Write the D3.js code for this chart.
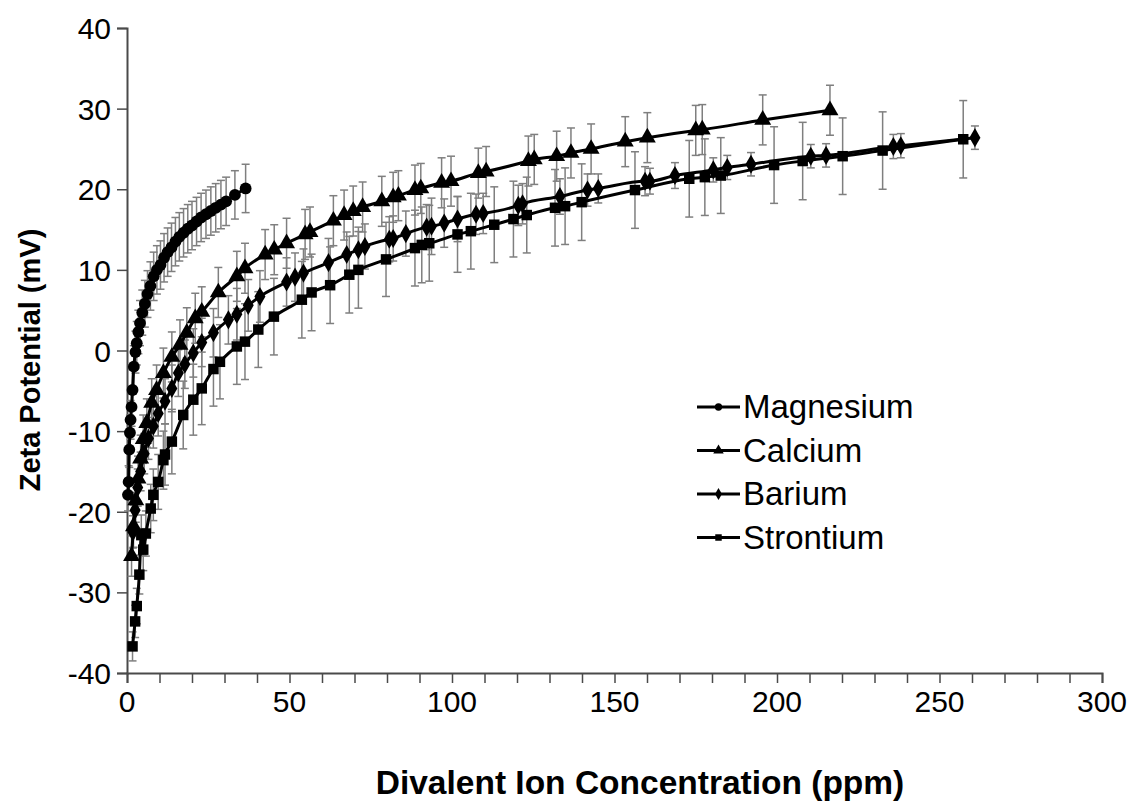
<!DOCTYPE html>
<html><head><meta charset="utf-8">
<script src="https://cdn.jsdelivr.net/npm/d3@7"></script>
<style>body{margin:0;background:#fff}svg{display:block}text{font-family:"Liberation Sans",Arial,sans-serif}</style>
</head><body><svg id="c" width="1140" height="805"></svg>
<script>
// ---- data ----
const seriesNames = ["Magnesium", "Calcium", "Barium", "Strontium"];
const xTicks = [0, 50, 100, 150, 200, 250, 300];
const yTicks = [-40, -30, -20, -10, 0, 10, 20, 30, 40];

const mgX = [0.3,0.5,0.7,0.9,1.1,1.4,1.7,2.1,2.6,3.0,3.5,4.0,4.7,5.5,6.3,7.2,8.2,9.2,10.3,11.4,12.5,13.7,14.9,16.1,17.4,18.7,20.0,21.4,22.8,24.3,25.8,27.3,28.9,30.5,33.2,36.5];
const mgY = [-17.9,-16.3,-12.3,-10.2,-8.6,-7.0,-4.9,-2.0,-0.2,0.9,2.3,3.4,4.7,5.8,7.0,8.0,9.2,10.0,10.6,11.5,12.2,12.8,13.5,14.1,14.6,15.1,15.5,16.0,16.5,16.9,17.3,17.7,18.1,18.5,19.3,20.1];
const mgErr = [2.0,2.0,2.2,2.2,2.4,2.4,2.5,2.6,2.6,2.7,2.7,2.8,2.8,2.9,2.9,3.0,3.0,3.0,3.0,3.0,3.0,3.0,3.0,3.0,3.0,3.0,3.0,3.0,3.0,3.0,3.0,3.0,3.0,3.0,3.0,3.0];

const caX = [1.4,2.0,2.7,3.4,4.2,5.0,6.1,7.6,9.1,11.2,13.8,16.3,18.4,21.0,23.0,28.1,33.8,36.3,42.5,45.3,49.1,54.8,56.3,63.5,66.8,69.6,72.5,78.4,81.9,83.5,88.6,90.4,96.8,99.7,108.1,110.5,123.5,125.3,132.2,136.6,142.8,153.3,160.1,175.0,177.0,195.6,216.3];
const caY = [-25.5,-21.8,-18.6,-15.9,-13.4,-11.0,-9.0,-6.5,-4.9,-2.8,-0.8,0.7,2.2,4.0,4.8,7.2,9.2,10.2,11.9,12.5,13.3,14.4,14.7,16.1,16.8,17.3,17.8,18.5,19.0,19.2,19.9,20.1,20.8,21.0,22.0,22.2,23.5,23.7,24.1,24.5,25.0,25.9,26.4,27.3,27.4,28.6,29.8];
const caErr = [2.5,2.6,2.7,2.8,2.9,3.0,3.0,3.0,3.1,3.1,3.1,3.1,3.1,3.1,3.1,3.1,3.1,3.1,3.1,3.1,3.1,3.1,3.1,3.1,3.1,3.1,3.1,3.1,3.1,3.1,3.1,3.1,3.1,3.1,3.1,3.1,3.1,3.1,3.1,3.1,3.1,3.1,3.1,3.1,3.1,3.1,3.1];

const baX = [1.8,2.5,3.3,4.2,5.3,6.6,8.1,9.6,11.7,13.8,15.8,17.8,20.4,23.0,26.6,31.2,33.8,37.3,40.9,49.1,51.7,54.3,62.0,67.6,71.2,73.2,80.7,81.9,85.8,92.2,93.7,97.6,101.7,107.4,109.6,120.4,121.7,133.2,141.7,145.0,159.4,160.9,168.6,180.4,184.7,192.0,210.4,215.1,235.8,238.1,260.9];
const baY = [-22.5,-19.8,-17.0,-15.0,-12.8,-10.9,-9.4,-7.8,-6.3,-4.7,-2.8,-1.7,-0.3,1.0,2.2,3.8,4.5,5.6,6.7,8.5,9.1,9.6,10.9,11.9,12.5,12.9,13.8,13.9,14.5,15.3,15.4,15.8,16.3,16.9,17.0,18.0,18.2,19.1,19.9,20.1,21.0,21.0,21.7,22.4,22.7,23.1,24.1,24.2,25.3,25.4,26.4];
const baErr = [2.0,2.2,2.3,2.4,2.5,2.6,2.7,2.8,2.8,2.9,2.9,3.0,3.0,3.0,3.0,3.0,3.2,3.2,3.2,3.0,3.0,3.0,3.0,2.8,2.8,2.8,2.8,2.8,2.8,2.8,3.5,3.0,2.8,2.5,2.5,2.5,2.5,2.2,2.0,1.8,1.8,1.6,1.6,1.5,1.5,1.45,1.45,1.45,1.5,1.5,1.45];

const srX = [1.7,2.5,3.0,3.8,4.4,5.0,5.8,7.3,8.1,9.6,11.2,11.7,13.8,17.3,20.4,23.0,26.6,28.6,33.8,36.3,40.4,45.2,53.8,56.8,62.5,68.4,71.2,79.7,88.6,90.7,93.0,101.7,105.8,113.0,118.9,123.0,131.7,134.8,139.9,156.3,173.0,177.8,182.7,199.1,207.9,220.2,232.5,257.3];
const srY = [-36.7,-33.6,-31.7,-27.8,-22.9,-24.7,-22.7,-19.6,-17.9,-16.3,-13.6,-12.9,-11.3,-8.0,-6.1,-4.7,-2.3,-1.4,0.5,1.1,2.6,4.2,6.3,7.2,8.1,9.4,10.0,11.3,12.7,13.1,13.3,14.4,14.8,15.6,16.3,16.8,17.7,17.9,18.4,19.9,21.3,21.5,21.7,23.0,23.5,24.1,24.8,26.2];
const srErr = [1.8,2.0,2.2,2.4,2.5,2.6,2.8,3.0,3.2,3.4,3.6,3.8,4.0,4.2,4.4,4.5,4.6,4.6,4.7,4.7,4.7,4.75,4.75,4.75,4.75,4.75,4.75,4.6,4.7,4.7,4.7,4.7,4.7,4.7,4.7,4.7,4.75,4.75,4.75,4.75,4.75,4.75,4.7,4.75,4.8,4.75,4.8,4.8];

const seriesX = [mgX, caX, baX, srX];
const seriesY = [mgY, caY, baY, srY];
const seriesErr = [mgErr, caErr, baErr, srErr];
const symbols = [d3.symbolCircle, d3.symbolTriangle, d3.symbolDiamond, d3.symbolSquare];
const symSizes = [110, 125, 105, 110];
const legSizes = [42, 48, 42, 42];

// ---- layout ----
const svg = d3.select("#c");
const L = 127, R = 1102, T = 28, B = 673;
const x = d3.scaleLinear().domain([0, 300]).range([L, R]);
const y = d3.scaleLinear().domain([-40, 40]).range([B, T]);

const axisColor = "#4a4a4a";
// x axis
const gx = svg.append("g").attr("transform", `translate(0,${B})`)
  .call(d3.axisBottom(x).tickValues(d3.range(0, 301, 10)).tickSize(10).tickFormat(""));
gx.select(".domain").attr("stroke", axisColor).attr("stroke-width", 2);
gx.selectAll(".tick line").attr("stroke", axisColor).attr("stroke-width", 1.5);
svg.append("g").selectAll("text").data(xTicks).join("text")
  .attr("x", d => x(d)).attr("y", B + 39).attr("text-anchor", "middle")
  .attr("font-size", 30).attr("fill", "#000").text(d => d);
// y axis
const gy = svg.append("g").attr("transform", `translate(${L},0)`)
  .call(d3.axisLeft(y).tickValues(yTicks).tickSize(10).tickFormat(""));
gy.select(".domain").attr("stroke", axisColor).attr("stroke-width", 2);
gy.selectAll(".tick line").attr("stroke", axisColor).attr("stroke-width", 1.5);
svg.append("g").selectAll("text").data(yTicks).join("text")
  .attr("x", L - 16).attr("y", d => y(d) + 11).attr("text-anchor", "end")
  .attr("font-size", 30).attr("fill", "#000").text(d => d);

// titles
svg.append("text").attr("x", 640).attr("y", 794).attr("text-anchor", "middle")
  .attr("font-size", 33.5).attr("font-weight", "bold").text("Divalent Ion Concentration (ppm)");
svg.append("text").attr("transform", "translate(40,360) rotate(-90)").attr("text-anchor", "middle")
  .attr("font-size", 29).attr("font-weight", "bold").text("Zeta Potential (mV)");

// error bars
const eg = svg.append("g");
seriesX.forEach((xs, s) => {
  const pts = xs.map((v, i) => ({x: v, y: seriesY[s][i], e: seriesErr[s][i]}));
  const g = eg.append("g").attr("stroke", "#7f7f7f").attr("stroke-width", 1.5).attr("fill", "none");
  g.selectAll("line.v").data(pts).join("line").attr("class", "v")
    .attr("x1", d => x(d.x)).attr("x2", d => x(d.x)).attr("y1", d => y(d.y - d.e)).attr("y2", d => y(d.y + d.e));
  g.selectAll("line.t").data(pts).join("line").attr("class", "t")
    .attr("x1", d => x(d.x) - 4).attr("x2", d => x(d.x) + 4).attr("y1", d => y(d.y + d.e)).attr("y2", d => y(d.y + d.e));
  g.selectAll("line.b").data(pts).join("line").attr("class", "b")
    .attr("x1", d => x(d.x) - 4).attr("x2", d => x(d.x) + 4).attr("y1", d => y(d.y - d.e)).attr("y2", d => y(d.y - d.e));
});

// lines + markers
const line = d3.line().x(d => x(d[0])).y(d => y(d[1])).curve(d3.curveMonotoneX);
seriesX.forEach((xs, s) => {
  const pts = xs.map((v, i) => [v, seriesY[s][i]]);
  svg.append("path").datum(pts).attr("d", line).attr("fill", "none").attr("stroke", "#000").attr("stroke-width", 3);
  svg.append("g").selectAll("path").data(pts).join("path")
    .attr("transform", d => `translate(${x(d[0])},${y(d[1])})`)
    .attr("d", d3.symbol(symbols[s], symSizes[s])).attr("fill", "#000");
});

// legend
const lg = svg.append("g");
seriesNames.forEach((n, i) => {
  const yy = 407 + i * 43.5;
  lg.append("line").attr("x1", 697).attr("x2", 740).attr("y1", yy).attr("y2", yy).attr("stroke", "#000").attr("stroke-width", 3);
  lg.append("path").attr("transform", `translate(718.5,${yy})`).attr("d", d3.symbol(symbols[i], legSizes[i])).attr("fill", "#000");
  lg.append("text").attr("x", 743).attr("y", yy + 11).attr("font-size", 33).text(n);
});
</script></body></html>
